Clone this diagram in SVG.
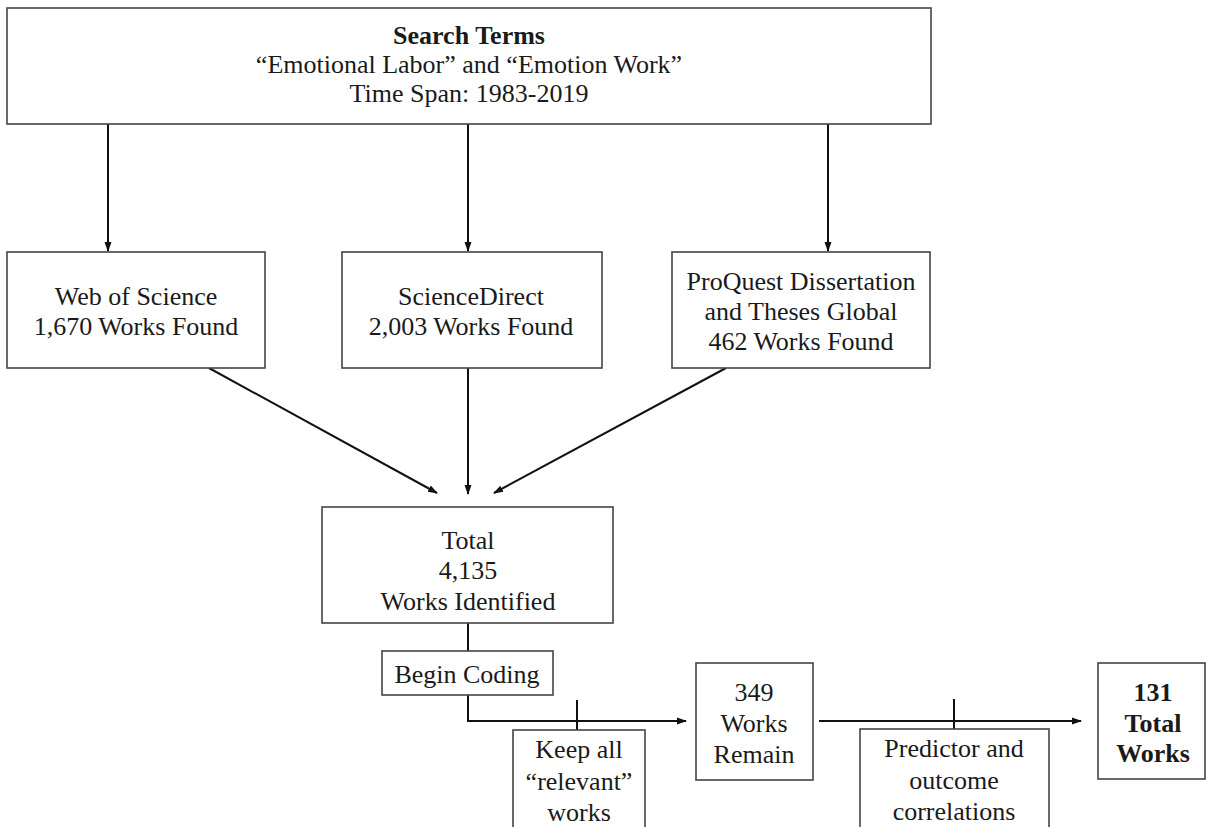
<svg xmlns="http://www.w3.org/2000/svg" width="1207" height="827" viewBox="0 0 1207 827">
<defs>
<style>
.box{fill:#fff;stroke:#444;stroke-width:1.6}
.ln{fill:none;stroke:#111;stroke-width:2}
.t{font-family:"Liberation Serif","Times New Roman",serif;font-size:26px;fill:#1a1a1a;text-anchor:middle}
.b{font-weight:bold}
</style>
<marker id="ah" markerWidth="10" markerHeight="10" refX="9" refY="5" orient="auto" markerUnits="userSpaceOnUse">
<path d="M0,1.5 L10,5 L0,8.5 Z" fill="#111"/>
</marker>
</defs>
<rect width="1207" height="827" fill="#fff"/>
<g id="connectors">
<line class="ln" x1="108" y1="124" x2="108" y2="251" marker-end="url(#ah)"/>
<line class="ln" x1="468" y1="124" x2="468" y2="251" marker-end="url(#ah)"/>
<line class="ln" x1="828" y1="124" x2="828" y2="251" marker-end="url(#ah)"/>
<line class="ln" x1="209" y1="368" x2="437" y2="493" marker-end="url(#ah)"/>
<line class="ln" x1="468" y1="368" x2="468" y2="494" marker-end="url(#ah)"/>
<line class="ln" x1="726" y1="368" x2="494" y2="493" marker-end="url(#ah)"/>
<line class="ln" x1="468" y1="623" x2="468" y2="651"/>
<path class="ln" d="M468,695 V721 H686" marker-end="url(#ah)"/>
<line class="ln" x1="577" y1="700" x2="577" y2="730"/>
<line class="ln" x1="819" y1="721" x2="1081" y2="721" marker-end="url(#ah)"/>
<line class="ln" x1="954" y1="699" x2="954" y2="729"/>
</g>
<g id="search-terms">
<rect class="box" x="7" y="8" width="924" height="116"/>
<text class="t b" x="469" y="44">Search Terms</text>
<text class="t" x="469" y="73">“Emotional Labor” and “Emotion Work”</text>
<text class="t" x="469" y="102">Time Span: 1983-2019</text>
</g>
<g id="web-of-science">
<rect class="box" x="7" y="252" width="258" height="116"/>
<text class="t" x="136" y="305">Web of Science</text>
<text class="t" x="136" y="335">1,670 Works Found</text>
</g>
<g id="sciencedirect">
<rect class="box" x="342" y="252" width="260" height="116"/>
<text class="t" x="471" y="305">ScienceDirect</text>
<text class="t" x="471" y="335">2,003 Works Found</text>
</g>
<g id="proquest">
<rect class="box" x="672" y="252" width="258" height="116"/>
<text class="t" x="801" y="290">ProQuest Dissertation</text>
<text class="t" x="801" y="320">and Theses Global</text>
<text class="t" x="801" y="350">462 Works Found</text>
</g>
<g id="total">
<rect class="box" x="322" y="507" width="291" height="116"/>
<text class="t" x="468" y="549">Total</text>
<text class="t" x="468" y="579">4,135</text>
<text class="t" x="468" y="610">Works Identified</text>
</g>
<g id="begin-coding">
<rect class="box" x="382" y="651" width="171" height="44"/>
<text class="t" x="467" y="683">Begin Coding</text>
</g>
<g id="keep-relevant">
<rect class="box" x="513" y="730" width="132" height="110"/>
<text class="t" x="579" y="758">Keep all</text>
<text class="t" x="579" y="790">“relevant”</text>
<text class="t" x="579" y="821">works</text>
</g>
<g id="works-remain">
<rect class="box" x="696" y="663" width="117" height="117"/>
<text class="t" x="754" y="701">349</text>
<text class="t" x="754" y="732">Works</text>
<text class="t" x="754" y="763">Remain</text>
</g>
<g id="predictor">
<rect class="box" x="860" y="729" width="189" height="110"/>
<text class="t" x="954" y="757">Predictor and</text>
<text class="t" x="954" y="789">outcome</text>
<text class="t" x="954" y="820">correlations</text>
</g>
<g id="total-works">
<rect class="box" x="1098" y="663" width="107" height="116"/>
<text class="t b" x="1153" y="701">131</text>
<text class="t b" x="1153" y="732">Total</text>
<text class="t b" x="1153" y="762">Works</text>
</g>
</svg>
